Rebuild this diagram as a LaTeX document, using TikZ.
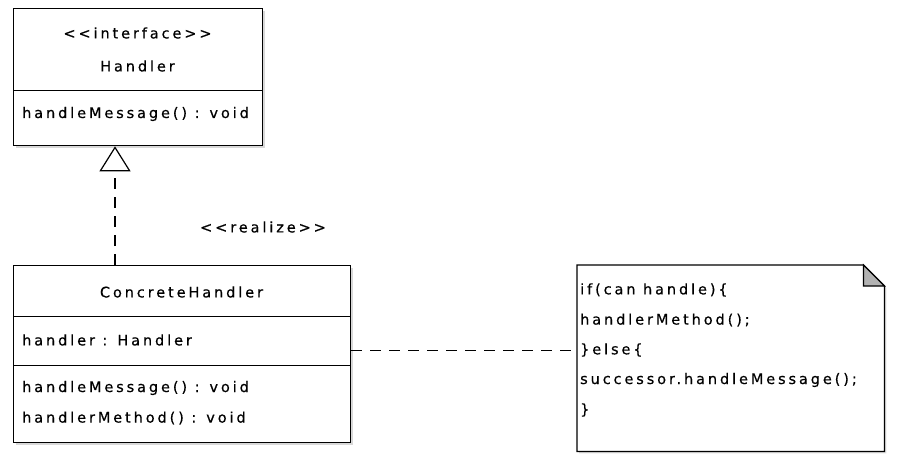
\documentclass[tikz,border=0pt]{standalone}
\usepackage{fontspec}
\setmainfont{DejaVu Sans}[LetterSpace=20,Ligatures=TeXOff,FakeBold=0.5]
\usetikzlibrary{arrows.meta,shadows}
\begin{document}
\begin{tikzpicture}[x=1pt,y=-1pt,
  comp/.style={draw=black,line width=1.3pt,fill=white,inner sep=0pt,anchor=north west,
    drop shadow={shadow xshift=2pt,shadow yshift=-2pt,fill=black!30,opacity=0.5}},
  lbl/.style={font=\fontsize{14.5}{17}\selectfont,inner sep=0pt,text=black},
  lleft/.style={lbl,anchor=west},
  conn/.style={draw=black,line width=1.2pt,dash pattern=on 11pt off 8pt},
  notebox/.style={inner sep=0pt,anchor=north west,minimum width=307pt,minimum height=186pt}]
\useasboundingbox (0,0) rectangle (901,470);
% Handler interface
\node[comp,minimum width=249pt,minimum height=82pt] (hhead) at (13,8) {};
\node[comp,minimum width=249pt,minimum height=55pt] (hops) at (13,90) {};
\node[lbl] (hstereo) at (137.5,33) {<<interface>>};
\node[lbl] (hname) at (137.5,66) {Handler};
\node[lleft] (hop1) at (22,114) {handleMessage() : void};
% ConcreteHandler
\node[comp,minimum width=337pt,minimum height=51pt] (chhead) at (13,265) {};
\node[comp,minimum width=337pt,minimum height=49pt] (chattr) at (13,316) {};
\node[comp,minimum width=337pt,minimum height=77pt] (chops) at (13,365) {};
\node[lbl] (chname) at (181.5,292) {ConcreteHandler};
\node[lleft] (chat1) at (22,340) {handler : Handler};
\node[lleft] (chop1) at (22,388) {handleMessage() : void};
\node[lleft] (chop2) at (22,418) {handlerMethod() : void};
% realization
\coordinate (rx) at (115,200);
\draw[conn,-{Triangle[open,length=25pt,width=31pt,line width=1.2pt]}] (rx |- chhead.north) -- (rx |- hops.south);
\node[lbl] (realize) at (263,227) {<<realize>>};
% note
\node[notebox] (note) at (577,265) {};
\draw[line width=1.3pt,fill=white,preaction={fill=black!25,opacity=0.5,transform canvas={shift={(2pt,-2pt)}}}]
  (note.north west) -- ([xshift=-21pt]note.north east) -- ([yshift=-21pt]note.north east)
  -- (note.south east) -- (note.south west) -- cycle;
\draw[line width=1.2pt,fill=black!30] ([xshift=-21pt]note.north east) -- ([xshift=-21pt,yshift=-21pt]note.north east)
  -- ([yshift=-21pt]note.north east) -- cycle;
\node[lleft] (n1) at (580,290) {if(can handle)\{};
\node[lleft] (n2) at (580,320) {handlerMethod();};
\node[lleft] (n3) at (580,350) {\}else\{};
\node[lleft] (n4) at (580,380) {successor.handleMessage();};
\node[lleft] (n5) at (580,410) {\}};
% note connector
\draw[conn] ([yshift=-9.5pt]chattr.east) -- ([yshift=-9.5pt]chattr.east -| note.west);
\end{tikzpicture}
\end{document}
